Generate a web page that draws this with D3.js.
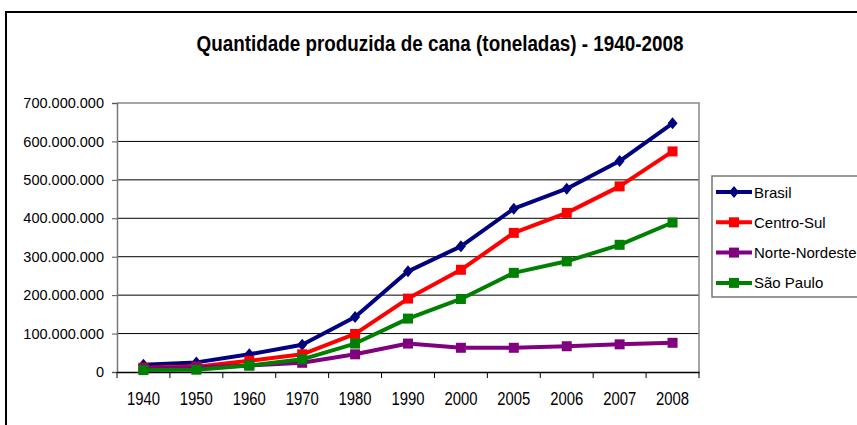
<!DOCTYPE html>
<html>
<head>
<meta charset="utf-8">
<script src="https://cdn.jsdelivr.net/npm/d3@7"></script>
<style>
body { margin: 0; background: #fff; }
text { font-family: "Liberation Sans", Arial, sans-serif; }
</style>
</head>
<body>
<svg id="chart" width="857" height="425"></svg>
<script>
var years = ['1940', '1950', '1960', '1970', '1980', '1990', '2000', '2005', '2006', '2007', '2008']
// toneladas
var brasil = [19e6, 25e6, 46e6, 71e6, 143e6, 262e6, 327e6, 425e6, 477e6, 549e6, 647e6]
var centroSul = [11e6, 14e6, 29e6, 46e6, 99e6, 191e6, 266e6, 362e6, 414e6, 483e6, 574e6]
var norteNordeste = [9e6, 12e6, 17e6, 24e6, 46e6, 74e6, 63e6, 63e6, 67e6, 72e6, 76e6]
var saoPaulo = [5e6, 6e6, 17e6, 33e6, 74e6, 139e6, 190e6, 258e6, 288e6, 331e6, 389e6]
var yTicks = [0, 100e6, 200e6, 300e6, 400e6, 500e6, 600e6, 700e6]

var series = [
  { name: 'Brasil', values: brasil, color: '#000080', shape: 'diamond' },
  { name: 'Centro-Sul', values: centroSul, color: '#ff0000', shape: 'square' },
  { name: 'Norte-Nordeste', values: norteNordeste, color: '#800080', shape: 'square' },
  { name: 'São Paulo', values: saoPaulo, color: '#008000', shape: 'square' }
]

var svg = d3.select('#chart')
var pLeft = 117, pRight = 699, pTop = 103, pBottom = 372

// outer frame (only top and left visible)
svg.append('path')
  .attr('d', 'M6,430V12H870')
  .attr('fill', 'none')
  .attr('stroke', '#000')
  .attr('stroke-width', 2)

// narrow-looking title: squeeze glyphs to the original width
svg.append('text')
  .attr('x', 440).attr('y', 51)
  .attr('text-anchor', 'middle')
  .attr('font-size', 22).attr('font-weight', 'bold')
  .attr('textLength', 487).attr('lengthAdjust', 'spacingAndGlyphs')
  .text('Quantidade produzida de cana (toneladas) - 1940-2008')

var x = d3.scaleBand().domain(years).range([pLeft, pRight])
var y = d3.scaleLinear().domain([0, 700e6]).range([pBottom, pTop])

var br = d3.formatLocale({ decimal: ',', thousands: '.', grouping: [3], currency: ['R$', ''] })
var fmt = br.format(',.0f')

// gridlines
svg.append('g').selectAll('line')
  .data(yTicks.slice(1, -1))
  .enter().append('line')
  .attr('x1', pLeft).attr('x2', pRight)
  .attr('y1', function (d) { return y(d) }).attr('y2', function (d) { return y(d) })
  .attr('stroke', '#000').attr('stroke-width', 1)

// plot area border (top, right)
svg.append('path')
  .attr('d', 'M' + pLeft + ',' + pTop + 'H' + pRight + 'V' + pBottom)
  .attr('fill', 'none').attr('stroke', '#888').attr('stroke-width', 1.5)

var yAxis = svg.append('g')
  .attr('transform', 'translate(' + pLeft + ',0)')
  .call(d3.axisLeft(y).tickValues(yTicks).tickFormat(fmt).tickSize(5).tickPadding(8))
yAxis.select('.domain').attr('stroke', '#777').attr('stroke-width', 1.5)
yAxis.selectAll('.tick line').attr('stroke', '#555')
yAxis.selectAll('text').attr('font-size', 14.5).attr('fill', '#000')

var xAxis = svg.append('g')
  .attr('transform', 'translate(0,' + pBottom + ')')
  .call(d3.axisBottom(x).tickSize(0))
xAxis.select('.domain').attr('stroke', '#000').attr('stroke-width', 1.5)
xAxis.selectAll('text')
  .attr('y', 33).attr('dy', 0)
  .attr('font-size', 17.5).attr('fill', '#000')
  .attr('textLength', 33).attr('lengthAdjust', 'spacingAndGlyphs')

// category separators below axis
svg.append('g').selectAll('line')
  .data(years.concat(['end']))
  .enter().append('line')
  .attr('x1', function (d, i) { return pLeft + i * x.bandwidth() })
  .attr('x2', function (d, i) { return pLeft + i * x.bandwidth() })
  .attr('y1', pBottom).attr('y2', pBottom + 6)
  .attr('stroke', '#000')

var line = d3.line()
  .x(function (d, i) { return x(years[i]) + x.bandwidth() / 2 })
  .y(function (d) { return y(d) })

var diamond = 'M0,-6L5,0L0,6L-5,0Z'
var square = 'M-5,-5H5V5H-5Z'

series.forEach(function (s) {
  svg.append('path')
    .attr('d', line(s.values))
    .attr('fill', 'none')
    .attr('stroke', s.color)
    .attr('stroke-width', 4)
    .attr('stroke-linejoin', 'round')
  svg.append('g').selectAll('path')
    .data(s.values)
    .enter().append('path')
    .attr('transform', function (d, i) { return 'translate(' + (x(years[i]) + x.bandwidth() / 2) + ',' + y(d) + ')' })
    .attr('d', s.shape == 'diamond' ? diamond : square)
    .attr('fill', s.color)
})

// legend
var lg = svg.append('g')
lg.append('rect')
  .attr('x', 712).attr('y', 176).attr('width', 160).attr('height', 121)
  .attr('fill', '#fff').attr('stroke', '#777').attr('stroke-width', 1.5)

var item = lg.selectAll('g.item')
  .data(series)
  .enter().append('g')
  .attr('class', 'item')
  .attr('transform', function (d, i) { return 'translate(0,' + (192 + i * 30.3) + ')' })
item.append('line')
  .attr('x1', 716).attr('x2', 752)
  .attr('stroke', function (d) { return d.color })
  .attr('stroke-width', 4)
item.append('path')
  .attr('transform', 'translate(734,0)')
  .attr('d', function (d) { return d.shape == 'diamond' ? diamond : square })
  .attr('fill', function (d) { return d.color })
item.append('text')
  .attr('x', 754).attr('y', 5.5)
  .attr('font-size', 15)
  .text(function (d) { return d.name })
</script>
</body>
</html>
